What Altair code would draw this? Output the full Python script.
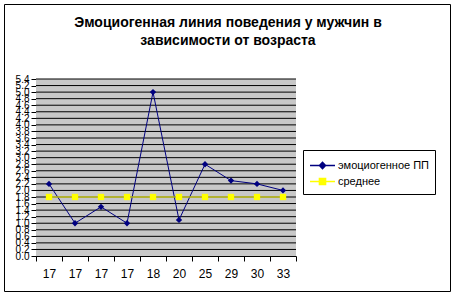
import altair as alt
import pandas as pd

ages = ["17", "17", "17", "17", "18", "20", "25", "29", "30", "33"]
emo = [2.2, 1.0, 1.5, 1.0, 5.0, 1.1, 2.8, 2.3, 2.2, 2.0]
mean = [1.8, 1.8, 1.8, 1.8, 1.8, 1.8, 1.8, 1.8, 1.8, 1.8]
series = ["эмоциогенное ПП", "среднее"]
colors = ["#000080", "#FFFF00"]
y_ticks = [0.0, 0.2, 0.4, 0.6, 0.8, 1.0, 1.2, 1.4, 1.6, 1.8, 2.0, 2.2, 2.4, 2.6,
           2.8, 3.0, 3.2, 3.4, 3.6, 3.8, 4.0, 4.2, 4.4, 4.6, 4.8, 5.0, 5.2, 5.4]
title_lines = ["Эмоциогенная линия поведения у мужчин в", "зависимости от возраста"]

df = pd.DataFrame({"idx": list(range(len(ages))), "age": ages, "emo": emo, "mean": mean})
grid_df = pd.DataFrame({"t": y_ticks[1:]})

FONT = "Liberation Sans"
W, H = 260, 177
xscale = alt.Scale(domain=[-0.5, len(ages) - 0.5], nice=False, zero=False)
yscale = alt.Scale(domain=[0, 5.4], nice=False, zero=True)

label_expr = "[" + ",".join("'" + a + "'" for a in ages) + "][datum.value]"

axis_lab = alt.Axis(values=list(range(len(ages))), labelExpr=label_expr, ticks=False,
                    grid=False, domain=True, domainColor="black", domainWidth=1,
                    labelFontSize=12, labelFont=FONT, labelColor="black",
                    labelPadding=12, title=None, orient="bottom", labelFlush=False)
axis_tick = alt.Axis(values=[i - 0.5 for i in range(len(ages) + 1)], labels=False,
                     ticks=True, tickSize=5, tickColor="black", domain=False,
                     grid=False, title=None, orient="bottom")
yaxis = alt.Axis(values=y_ticks, format=".1f", grid=False, tickColor="black", tickSize=5,
                 domainColor="black", labelFontSize=10, labelFont=FONT,
                 labelColor="black", labelOverlap=False, labelFlush=False,
                 labelPadding=2, title=None)

base = alt.Chart(df)
single = alt.Data(values=[{}])

plot_bg = alt.Chart(single).mark_rect(fill="#C8C8C8", strokeWidth=0).encode(
    x=alt.value(0), x2=alt.value(W), y=alt.value(0), y2=alt.value(H)
)
grid = alt.Chart(grid_df).mark_rule(color="black", strokeWidth=1).encode(
    y=alt.Y("t:Q", scale=yscale, axis=yaxis),
    x=alt.value(0), x2=alt.value(W),
)

emo_line = base.mark_line(color=colors[0], strokeWidth=1).encode(
    x=alt.X("idx:Q", scale=xscale, axis=axis_lab),
    y=alt.Y("emo:Q", scale=yscale, axis=yaxis),
)
emo_pts = base.mark_point(shape="diamond", filled=True, size=40, color=colors[0], opacity=1).encode(
    x=alt.X("idx:Q", scale=xscale, axis=None),
    y=alt.Y("emo:Q", scale=yscale, axis=yaxis),
)
mean_line = base.mark_line(color=colors[1], strokeWidth=1).encode(
    x=alt.X("idx:Q", scale=xscale, axis=axis_tick),
    y=alt.Y("mean:Q", scale=yscale, axis=yaxis),
)
mean_pts = base.mark_point(shape="square", filled=True, size=40, color=colors[1], opacity=1).encode(
    x=alt.X("idx:Q", scale=xscale, axis=None),
    y=alt.Y("mean:Q", scale=yscale, axis=yaxis),
)

paths = [
    "M-1.47,0H1.47M-0.36,0L0,-0.38L0.36,0L0,0.38ZM-0.18,0H0.18M0,-0.18V0.18",
    "M-1.47,0H1.47M-0.36,-0.36H0.36V0.36H-0.36ZM-0.18,0H0.18M0,-0.18V0.18",
]
leg = alt.Legend(orient="none", legendX=267, legendY=71, title=None,
                 fillColor="white", strokeColor="black", padding=6,
                 symbolSize=289, symbolStrokeWidth=1.5, symbolOffset=4,
                 labelFontSize=11, labelFont=FONT, labelColor="black",
                 labelOffset=6, rowPadding=0, labelLimit=300)
legend_layer = alt.Chart(pd.DataFrame({"s": series})).mark_point(opacity=1).encode(
    fill=alt.Fill("s:N", scale=alt.Scale(domain=series, range=colors), legend=leg),
    stroke=alt.Stroke("s:N", scale=alt.Scale(domain=series, range=colors), legend=leg),
    shape=alt.Shape("s:N", scale=alt.Scale(domain=series, range=paths), legend=leg),
).transform_filter("false")

border = alt.Chart(single).mark_rect(
    fillOpacity=0, stroke="black", strokeWidth=1
).encode(
    x=alt.value(-31.5), x2=alt.value(414.5), y=alt.value(-74.5), y2=alt.value(212.5)
)
title_text = alt.Chart(single).mark_text(
    text=title_lines, font=FONT, fontSize=14, fontWeight="bold", color="black",
    align="center", baseline="alphabetic", lineHeight=18.5
).encode(x=alt.value(192), y=alt.value(-52.5))

chart = alt.layer(plot_bg, grid, emo_line, mean_line, emo_pts, mean_pts, legend_layer, border, title_text).resolve_axis(
    x="independent"
).resolve_scale(x="shared", y="shared").properties(
    width=W, height=H,
    autosize=alt.AutoSizeParams(type="none"),
    padding={"left": 36, "top": 79, "right": 160, "bottom": 43},
    background="white",
).configure_view(strokeWidth=0)

chart.save("out.html", embed_options={"renderer": "svg", "actions": False})
